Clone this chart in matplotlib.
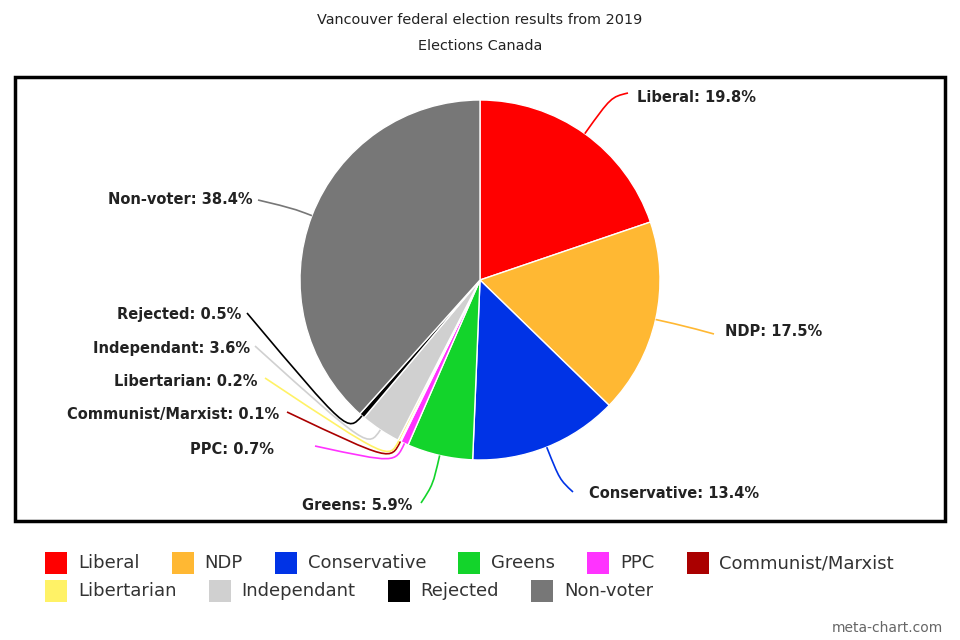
import matplotlib
matplotlib.use('Agg')
import matplotlib.pyplot as plt
from matplotlib.patches import Rectangle, PathPatch
from matplotlib.path import Path
import numpy as np

#### DATA ##########

parties = ['Liberal', 'NDP', 'Conservative', 'Greens', 'PPC', 'Communist/Marxist',
           'Libertarian', 'Independant', 'Rejected', 'Non-voter']
shares = [19.8, 17.5, 13.4, 5.9, 0.7, 0.1, 0.2, 3.6, 0.5, 38.4]
colours = ['#ff0000', '#ffb833', '#0033e6', '#13d42b', '#ff33ff', '#aa0000',
           '#fff266', '#d0d0d0', '#000000', '#777777']

title = 'Vancouver federal election results from 2019'
subtitle = 'Elections Canada'

W, H = 960, 640
cx, cy, R = 480, 280, 180   # pie centre / radius in pixels (y down)

# label layout: text x, text y, alignment, line end x, line end y, elbow offset
label_pos = {
    'Liberal':           (637, 97, 'left', 628, 93, 45),
    'NDP':               (725, 332, 'left', 714, 334, 30),
    'Conservative':      (589, 494, 'left', 573, 492, 35),
    'Greens':            (412, 505, 'right', 421, 503, 30),
    'PPC':               (274, 449, 'right', 315, 446, 22),
    'Communist/Marxist': (279, 414, 'right', 287, 412, 22),
    'Libertarian':       (257, 381, 'right', 265, 378, 22),
    'Independant':       (250, 349, 'right', 255, 346, 22),
    'Rejected':          (241, 314, 'right', 247, 313, 22),
    'Non-voter':         (253, 200, 'right', 258, 200, 20),
}

def py(y):
    return H - y

##### PLOT ######

fig = plt.figure(figsize=(9.6, 6.4), dpi=100)
ax = fig.add_axes([0, 0, 1, 1])

wedges, _ = ax.pie(shares, colors=colours, startangle=90, counterclock=False,
                   center=(cx, py(cy)), radius=R, frame=True,
                   wedgeprops=dict(edgecolor='white', linewidth=1))
ax.set_xlim(0, W)
ax.set_ylim(0, H)
ax.set_aspect('equal')
ax.axis('off')

for w, name, val, col in zip(wedges, parties, shares, colours):
    tx, ty, ha, ex, ey, off = label_pos[name]
    mid = np.radians((w.theta1 + w.theta2) / 2)
    sx = cx + R * np.cos(mid)
    sy = py(cy) + R * np.sin(mid)
    kx = cx + (R + off) * np.cos(mid)
    ky = py(cy) + (R + off) * np.sin(mid)
    path = Path([(sx, sy), (kx, ky), (kx, ky), (ex, py(ey))],
                [Path.MOVETO, Path.CURVE4, Path.CURVE4, Path.CURVE4])
    ax.add_patch(PathPatch(path, fill=False, edgecolor=col, linewidth=1.2, zorder=3))
    ax.text(tx, py(ty), f'{name}: {val}%', ha=ha, va='center', fontsize=10.5,
            fontweight='bold', color='#222222', family='DejaVu Sans')

# chart frame
ax.add_patch(Rectangle((15, py(521)), 930, 444, fill=False, edgecolor='black',
                       linewidth=2.5, zorder=5))

ax.text(480, py(20), title, ha='center', va='center', fontsize=10.4, color='#222222')
ax.text(480, py(46), subtitle, ha='center', va='center', fontsize=10.4, color='#222222')

# legend, drawn by hand in two rows
renderer = fig.canvas.get_renderer()
rows = [parties[:6], parties[6:]]
row_y = [563, 591]
for row, ry in zip(rows, row_y):
    x = 45
    for name in row:
        col = colours[parties.index(name)]
        ax.add_patch(Rectangle((x, py(ry) - 11), 22, 22, facecolor=col,
                               edgecolor='none'))
        t = ax.text(x + 33, py(ry), name, ha='left', va='center', fontsize=13,
                    color='#333333')
        bb = t.get_window_extent(renderer)
        x = bb.x1 + 32

ax.text(943, py(628), 'meta-chart.com', ha='right', va='center', fontsize=10,
        color='#666666')

plt.savefig('out.png', dpi=100)
